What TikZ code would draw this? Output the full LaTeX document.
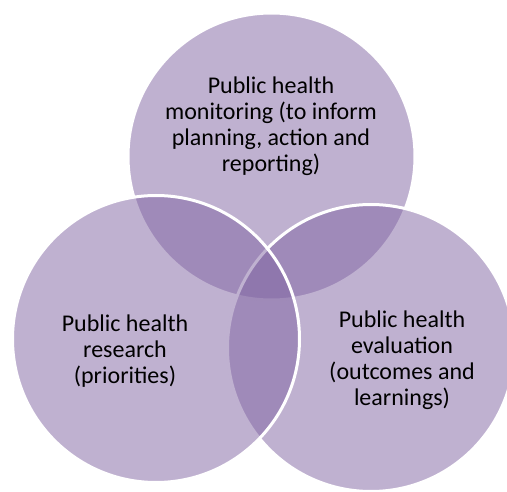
\documentclass[tikz,border=0pt]{standalone}
\usepackage{fontspec}
\setmainfont{Carlito}
\usepackage{tikz}

\definecolor{vennpurple}{HTML}{8064A2}

\tikzset{
  venn/.style={fill=vennpurple, fill opacity=0.5, draw=white, line width=3pt},
  venntext/.style={align=center, font=\fontsize{24}{26}\selectfont, text=black}
}

\begin{document}
\begin{tikzpicture}[x=1pt,y=1pt]

    \useasboundingbox (0,0) rectangle (507,491);

    % monitoring on top, then evaluation, research drawn last
    \draw[venn] (271.5,334.5) circle [radius=143.5pt];

    \draw[venn] (371,143) circle [radius=143.5pt];

    \draw[venn] (156,152) circle [radius=143.5pt];



    \node[venntext] (monitoring) at (271,365)
      {Public health\\monitoring (to inform\\planning, action and\\reporting)};

    \node[venntext] (research) at (125,140)
      {Public health\\research\\(priorities)};

    \node[venntext] (evaluation) at (402,131)
      {Public health\\evaluation\\(outcomes and\\learnings)};

  \end{tikzpicture}
\end{document}
